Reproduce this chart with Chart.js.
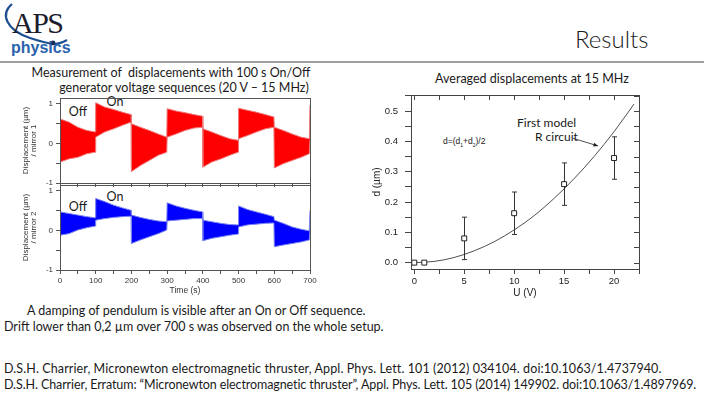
<!DOCTYPE html>
<html>
<head>
<meta charset="utf-8">
<script src="https://cdn.jsdelivr.net/npm/chart.js@4.4.1/dist/chart.umd.min.js"></script>
<style>
    html, body { margin: 0; padding: 0; background: #fff; }
    body { width: 704px; height: 396px; position: relative; overflow: hidden; font-family: Lato, 'Open Sans', sans-serif; color: #1a1a1a; }
    canvas { position: absolute; left: 0; top: 0; }
    .t { position: absolute; white-space: nowrap; line-height: 16px; font-size: 12.5px; }
    .c { transform: translateX(-50%); }
</style>
</head>
<body>
<svg style="position:absolute;left:0;top:0" width="80" height="62">
    <path d="M12 4 C 0 14, 6 30, 30 38 S 58 45, 67 40" stroke="#1d4f91" stroke-width="2.2" fill="none"/>
    <circle cx="53" cy="43" r="2.4" fill="#1a2e5a"/>
</svg>
<div class="t" style="left:12px;top:8px;font:30px/30px 'Liberation Serif',serif;letter-spacing:-1.5px;color:#1c1c2c">APS</div>
<div class="t" style="left:11px;top:40px;font:bold 16px/16px 'Liberation Sans',sans-serif;color:#2b63ad">physics</div>
<div style="position:absolute;left:0;top:61px;width:704px;height:2px;background:#a0a0a0"></div>
<div class="t" style="left:575px;top:27px;font-size:24px;line-height:24px;font-weight:300">Results</div>

<div class="t c" style="left:171px;top:65px">Measurement of&nbsp; displacements with 100 s On/Off</div>
<div class="t c" style="left:184px;top:80px">generator voltage sequences (20 V – 15 MHz)</div>
<div class="t c" style="left:532px;top:71px">Averaged displacements at 15 MHz</div>

<div class="t c" style="left:78px;top:104px">Off</div>
<div class="t c" style="left:115px;top:94px">On</div>
<div class="t c" style="left:78px;top:199px">Off</div>
<div class="t c" style="left:115px;top:189px">On</div>

<div class="t" style="left:517px;top:115px;font-size:12px">First model</div>
<div class="t" style="left:535px;top:129px;font-size:12px">R circuit</div>
<div class="t" style="left:443px;top:136px;font:8.5px/10px 'Liberation Sans',sans-serif">d=(d<sub style="font-size:5px">1</sub>+d<sub style="font-size:5px">2</sub>)/2</div>

<div class="t" style="left:27px;top:303px">A damping of pendulum is visible after an On or Off sequence.</div>
<div class="t" style="left:4px;top:319px">Drift lower than 0,2 µm over 700 s was observed on the whole setup.</div>
<div class="t" style="left:4px;top:361px;letter-spacing:0.1px">D.S.H. Charrier, Micronewton electromagnetic thruster, Appl. Phys. Lett. 101 (2012) 034104. doi:10.1063/1.4737940.</div>
<div class="t" style="left:4px;top:377px;letter-spacing:-0.1px">D.S.H. Charrier, Erratum: “Micronewton electromagnetic thruster”, Appl. Phys. Lett. 105 (2014) 149902. doi:10.1063/1.4897969.</div>

<canvas id="chart-mirror1" width="704" height="396"></canvas>
<canvas id="chart-mirror2" width="704" height="396"></canvas>
<canvas id="chart-avg" width="704" height="396"></canvas>

<script>
// envelope of the oscillating signal (s, µm)
const timeS = [0, 25, 50, 75, 99, 100, 125, 150, 175, 199, 200, 225, 250, 275, 299, 300, 325, 350, 375, 399,
    400, 425, 450, 475, 499, 500, 525, 550, 575, 599, 600, 625, 650, 675, 698, 700];
const mirror1Upper = [0.62, 0.54, 0.41, 0.33, 0.29, 1.03, 0.92, 0.86, 0.79, 0.73, 0.50, 0.41, 0.33, 0.24, 0.16,
    0.88, 0.82, 0.78, 0.73, 0.69, 0.37, 0.29, 0.20, 0.12, 0.08, 0.89, 0.84, 0.79, 0.73, 0.67,
    0.41, 0.33, 0.24, 0.16, 0.12, 0.96];
const mirror1Lower = [-0.47, -0.39, -0.35, -0.26, -0.22, 0.16, 0.29, 0.37, 0.46, 0.54, -0.71, -0.56, -0.43, -0.30, -0.22,
    0.16, 0.24, 0.33, 0.39, 0.41, -0.60, -0.47, -0.39, -0.30, -0.22, 0.12, 0.20, 0.29, 0.37, 0.41,
    -0.62, -0.51, -0.43, -0.35, -0.26, 0.10];
const mirror2Upper = [0.47, 0.43, 0.39, 0.35, 0.32, 0.81, 0.73, 0.64, 0.57, 0.51, 0.39, 0.33, 0.28, 0.24, 0.22,
    0.70, 0.62, 0.56, 0.51, 0.47, 0.26, 0.22, 0.18, 0.15, 0.14, 0.62, 0.53, 0.47, 0.41, 0.35,
    0.26, 0.18, 0.09, 0.03, -0.01, 0.50];
const mirror2Lower = [-0.12, -0.08, 0.01, 0.07, 0.11, 0.26, 0.30, 0.33, 0.35, 0.36, -0.33, -0.24, -0.16, -0.08, 0.01,
    0.24, 0.26, 0.28, 0.30, 0.30, -0.26, -0.20, -0.16, -0.12, -0.09, 0.09, 0.14, 0.16, 0.18, 0.19,
    -0.41, -0.37, -0.33, -0.29, -0.24, 0.00];
const timeTicks = [0, 50, 100, 150, 200, 250, 300, 350, 400, 450, 500, 550, 600, 650, 700];
const dispTicks = [-1, -0.5, 0, 0.5, 1];

// averaged displacement vs voltage
const voltage = [0, 1, 5, 10, 15, 20];
const avgDisp = [0, 0, 0.080, 0.163, 0.259, 0.345];
const avgErr = [0, 0, 0.070, 0.070, 0.070, 0.070];
const modelU = [0, 2, 4, 6, 8, 10, 12, 14, 16, 18, 20, 22];
const modelD = [0, 0.004, 0.017, 0.039, 0.069, 0.108, 0.155, 0.212, 0.277, 0.350, 0.432, 0.523];
const uTicks = [0, 2.5, 5, 7.5, 10, 12.5, 15, 17.5, 20, 22.5];
const dTicks = [0, 0.05, 0.1, 0.15, 0.2, 0.25, 0.3, 0.35, 0.4, 0.45, 0.5, 0.55];
const arrowFrom = [15.9, 0.410];
const arrowTo = [18.4, 0.385];

const axisFont = { family: "'Liberation Sans', Arial, sans-serif", size: 8 };

function toPoints(xs, ys) {
    return xs.map((x, i) => ({ x: x, y: ys[i] }));
}

const framePlugin = {
    id: 'frame',
    afterDraw(chart, args, opts) {
        const { ctx, chartArea: a } = chart;
        ctx.save();
        ctx.strokeStyle = opts.color || '#444';
        ctx.lineWidth = 1;
        ctx.strokeRect(a.left + 0.5, a.top + 0.5, a.right - a.left, a.bottom - a.top);
        if (opts.mirror) {
            const xs = chart.scales.x, ys = chart.scales.y;
            ctx.beginPath();
            xs.ticks.forEach(t => {
                const px = Math.round(xs.getPixelForValue(t.value)) + 0.5;
                ctx.moveTo(px, a.top);
                ctx.lineTo(px, a.top + 5);
            });
            ys.ticks.forEach(t => {
                const py = Math.round(ys.getPixelForValue(t.value)) + 0.5;
                ctx.moveTo(a.right, py);
                ctx.lineTo(a.right - 5, py);
            });
            ctx.stroke();
        }
        ctx.restore();
    }
};

function timeChart(id, upper, lower, fillColor, edgeColor, pad, xHeight, showX, yTitle) {
    return new Chart(document.getElementById(id), {
        type: 'line',
        data: {
            datasets: [
                { data: toPoints(timeS, upper), borderColor: edgeColor, borderWidth: 1, pointRadius: 0, fill: false, tension: 0 },
                { data: toPoints(timeS, lower), borderColor: edgeColor, borderWidth: 1, pointRadius: 0, fill: '-1', backgroundColor: fillColor, tension: 0 }
            ]
        },
        plugins: [framePlugin],
        options: {
            responsive: false,
            animation: false,
            layout: { padding: pad, autoPadding: false },
            plugins: { legend: { display: false }, tooltip: { enabled: false }, frame: { color: '#555' } },
            scales: {
                x: {
                    type: 'linear', min: 0, max: 700,
                    afterBuildTicks: s => { s.ticks = timeTicks.map(v => ({ value: v })); },
                    afterFit: s => { s.height = xHeight; },
                    border: { display: false },
                    grid: { drawOnChartArea: false, tickLength: 4, color: '#555' },
                    ticks: { display: showX, maxRotation: 0, autoSkip: false, padding: 2, color: '#333', font: axisFont,
                        callback: v => (v % 100 === 0 ? String(v) : '') },
                    title: { display: showX, text: 'Time (s)', color: '#333', font: { family: axisFont.family, size: 8.5 }, padding: { top: 0, bottom: 0 } }
                },
                y: {
                    min: -1, max: 1.15,
                    afterBuildTicks: s => { s.ticks = dispTicks.map(v => ({ value: v })); },
                    afterFit: s => { s.width = 42; },
                    border: { display: false },
                    grid: { drawOnChartArea: false, tickLength: 4, color: '#555' },
                    ticks: { padding: 3, color: '#333', font: axisFont, autoSkip: false,
                        callback: v => (Number.isInteger(v) ? String(v) : '') },
                    title: { display: true, text: ['Displacement (µm)', yTitle], color: '#333',
                        font: { family: axisFont.family, size: 8, lineHeight: 0.95 }, padding: { top: 4, bottom: 0 } }
                }
            }
        }
    });
}

timeChart('chart-mirror1', mirror1Upper, mirror1Lower, '#ff0000', '#ee7b7b',
    { left: 18, top: 98, right: 394, bottom: 207 }, 6, false, '/ mirror 1');
timeChart('chart-mirror2', mirror2Upper, mirror2Lower, '#0000ff', '#7c86f0',
    { left: 18, top: 185, right: 394, bottom: 100 }, 26, true, '/ mirror 2');

const errorBarPlugin = {
    id: 'errorBars',
    beforeDatasetsDraw(chart) {
        const { ctx } = chart;
        const xs = chart.scales.x, ys = chart.scales.y;
        ctx.save();
        ctx.strokeStyle = '#333';
        ctx.lineWidth = 1;
        ctx.beginPath();
        voltage.forEach((u, i) => {
            if (!avgErr[i]) return;
            const px = Math.round(xs.getPixelForValue(u)) + 0.5;
            const top = ys.getPixelForValue(avgDisp[i] + avgErr[i]);
            const bot = ys.getPixelForValue(avgDisp[i] - avgErr[i]);
            ctx.moveTo(px, top); ctx.lineTo(px, bot);
            ctx.moveTo(px - 2.5, top); ctx.lineTo(px + 2.5, top);
            ctx.moveTo(px - 2.5, bot); ctx.lineTo(px + 2.5, bot);
        });
        ctx.stroke();
        ctx.restore();
    },
    afterDatasetsDraw(chart) {
        const { ctx } = chart;
        const xs = chart.scales.x, ys = chart.scales.y;
        const x0 = xs.getPixelForValue(arrowFrom[0]), y0 = ys.getPixelForValue(arrowFrom[1]);
        const x1 = xs.getPixelForValue(arrowTo[0]), y1 = ys.getPixelForValue(arrowTo[1]);
        const ang = Math.atan2(y1 - y0, x1 - x0);
        ctx.save();
        ctx.strokeStyle = '#222';
        ctx.fillStyle = '#222';
        ctx.lineWidth = 0.8;
        ctx.beginPath();
        ctx.moveTo(x0, y0); ctx.lineTo(x1, y1);
        ctx.stroke();
        ctx.beginPath();
        ctx.moveTo(x1, y1);
        ctx.lineTo(x1 - 5 * Math.cos(ang - 0.4), y1 - 5 * Math.sin(ang - 0.4));
        ctx.lineTo(x1 - 5 * Math.cos(ang + 0.4), y1 - 5 * Math.sin(ang + 0.4));
        ctx.closePath();
        ctx.fill();
        ctx.restore();
    }
};

const rightFont = { family: "'Liberation Sans', Arial, sans-serif", size: 9.5 };

new Chart(document.getElementById('chart-avg'), {
    type: 'scatter',
    data: {
        datasets: [
            { data: toPoints(voltage, avgDisp), pointStyle: 'rect', pointRadius: 3.5, borderWidth: 1,
                borderColor: '#222', backgroundColor: '#fff' },
            { data: toPoints(modelU, modelD), showLine: true, borderColor: '#222', borderWidth: 0.8,
                pointRadius: 0, cubicInterpolationMode: 'monotone' }
        ]
    },
    plugins: [framePlugin, errorBarPlugin],
    options: {
        responsive: false,
        animation: false,
        layout: { padding: { left: 367, top: 95, right: 65, bottom: 97 }, autoPadding: false },
        plugins: { legend: { display: false }, tooltip: { enabled: false }, frame: { color: '#444', mirror: true } },
        scales: {
            x: {
                type: 'linear', min: -0.33, max: 22.5,
                afterBuildTicks: s => { s.ticks = uTicks.map(v => ({ value: v })); },
                afterFit: s => { s.height = 30; },
                border: { display: false },
                grid: { drawOnChartArea: false, tickLength: 5, color: '#444' },
                ticks: { maxRotation: 0, autoSkip: false, padding: 2, color: '#222', font: rightFont,
                    callback: v => (v % 5 === 0 ? String(v) : '') },
                title: { display: true, text: 'U (V)', color: '#222', font: { family: rightFont.family, size: 10 }, padding: { top: 0, bottom: 0 } }
            },
            y: {
                min: -0.021, max: 0.553,
                afterBuildTicks: s => { s.ticks = dTicks.map(v => ({ value: v })); },
                afterFit: s => { s.width = 44; },
                border: { display: false },
                grid: { drawOnChartArea: false, tickLength: 6, color: '#444' },
                ticks: { padding: 7, color: '#222', font: rightFont, autoSkip: false,
                    callback: v => (Math.round(v * 100) % 10 === 0 ? v.toFixed(1) : '') },
                title: { display: true, text: 'd (µm)', color: '#222', font: { family: rightFont.family, size: 10 }, padding: { top: 4, bottom: 0 } }
            }
        }
    }
});
</script>
</body>
</html>
